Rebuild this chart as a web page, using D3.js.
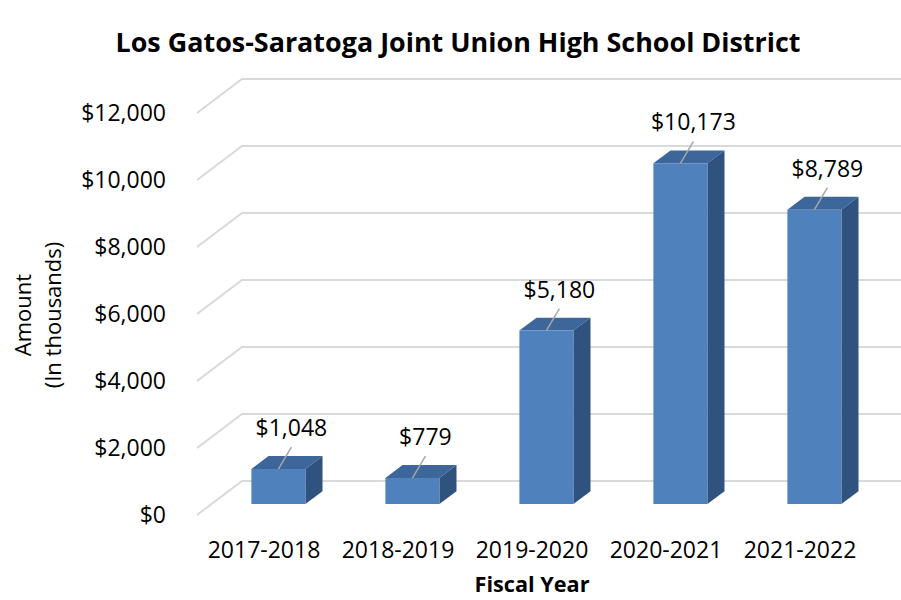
<!DOCTYPE html>
<html>
<head>
<meta charset="UTF-8">
<title>Los Gatos-Saratoga JUHSD</title>
<script src="https://d3js.org/d3.v7.min.js"></script>
<style>
  body { margin: 0; background: #fff; }
  text { font-family: "Open Sans", sans-serif; fill: #000; }
</style>
</head>
<body>
<div id="chart"></div>
<script>
// data
var years = ["2017-2018", "2018-2019", "2019-2020", "2020-2021", "2021-2022"];
var amounts = [1048, 779, 5180, 10173, 8789];
var yTicks = [0, 2000, 4000, 6000, 8000, 10000, 12000];

var W = 901, H = 600;
var depthX = 45, depthY = -34;      // full floor depth offset
var zFront = 0.32, zBack = 0.70;    // bar position inside the depth

var svg = d3.select("#chart").append("svg").attr("width", W).attr("height", H);

var x = d3.scaleBand().domain(years).range([197, 867]).paddingInner(0.597).paddingOuter(0.2985);
var y = d3.scaleLinear().domain([0, 12000]).range([515, 113]);
var fmt = function(v) { return "$" + d3.format(",")(v); };

// project a point at depth z (0 = front, 1 = back wall)
function px(xv, z) { return xv + z * depthX; }
function py(yv, z) { return yv + z * depthY; }

// gridlines (floor edge + back wall)
svg.append("g").selectAll("polyline").data(yTicks).enter().append("polyline")
    .attr("points", function(d) {
        return [[197, y(d)], [px(197, 1), py(y(d), 1)], [W, py(y(d), 1)]].join(" ");
    })
    .attr("fill", "none").attr("stroke", "#d9d9d9").attr("stroke-width", 2);

// y tick labels
svg.append("g").selectAll("text").data(yTicks).enter().append("text")
    .attr("x", 166).attr("y", function(d) { return y(d); })
    .attr("dy", "0.35em").attr("text-anchor", "end")
    .style("font-size", "23px").text(fmt);

// bars
var bars = svg.append("g").selectAll("g").data(amounts).enter().append("g");

function face(pts) { return "M" + pts.join("L") + "Z"; }

bars.append("path") // top
    .attr("fill", "#3d679a")
    .attr("d", function(d, i) {
        var x0 = x(years[i]), x1 = x0 + x.bandwidth(), t = y(d);
        return face([[px(x0, zFront), py(t, zFront)], [px(x1, zFront), py(t, zFront)],
                     [px(x1, zBack), py(t, zBack)], [px(x0, zBack), py(t, zBack)]]);
    });
bars.append("path") // side
    .attr("fill", "#30527e")
    .attr("d", function(d, i) {
        var x1 = x(years[i]) + x.bandwidth(), t = y(d), b = y(0);
        return face([[px(x1, zFront), py(t, zFront)], [px(x1, zBack), py(t, zBack)],
                     [px(x1, zBack), py(b, zBack)], [px(x1, zFront), py(b, zFront)]]);
    });
bars.append("path") // front
    .attr("fill", "#4f81bd")
    .attr("d", function(d, i) {
        var x0 = x(years[i]), x1 = x0 + x.bandwidth(), t = y(d), b = y(0);
        return face([[px(x0, zFront), py(t, zFront)], [px(x1, zFront), py(t, zFront)],
                     [px(x1, zFront), py(b, zFront)], [px(x0, zFront), py(b, zFront)]]);
    });

// data labels with leader lines
bars.append("line")
    .attr("x1", function(d, i) { return px(x(years[i]) + x.bandwidth() / 2, zFront); })
    .attr("y1", function(d) { return py(y(d), zFront); })
    .attr("x2", function(d, i) { return px(x(years[i]) + x.bandwidth() / 2, zFront) + 13; })
    .attr("y2", function(d) { return py(y(d), zFront) - 22; })
    .attr("stroke", "#a6a6a6").attr("stroke-width", 1.5);

bars.append("text")
    .attr("x", function(d, i) { return px(x(years[i]) + x.bandwidth() / 2, zFront) + 13; })
    .attr("y", function(d) { return py(y(d), zFront) - 33; })
    .attr("text-anchor", "middle").style("font-size", "23px")
    .text(fmt);

// x labels
svg.append("g").selectAll("text").data(years).enter().append("text")
    .attr("x", function(d) { return x(d) + x.bandwidth() / 2; })
    .attr("y", 558).attr("text-anchor", "middle")
    .style("font-size", "23px").text(function(d) { return d; });

// titles
svg.append("text").attr("x", 458).attr("y", 52).attr("text-anchor", "middle")
    .attr("textLength", 685).attr("lengthAdjust", "spacingAndGlyphs")
    .style("font-size", "27px").style("font-weight", "bold")
    .text("Los Gatos-Saratoga Joint Union High School District");

svg.append("text").attr("x", 532).attr("y", 592).attr("text-anchor", "middle")
    .attr("textLength", 115).attr("lengthAdjust", "spacingAndGlyphs")
    .style("font-size", "21px").style("font-weight", "bold")
    .text("Fiscal Year");

var yt = svg.append("text").attr("transform", "rotate(-90)").attr("text-anchor", "middle")
    .style("font-size", "22px");
yt.append("tspan").attr("x", -315).attr("y", 31).text("Amount");
yt.append("tspan").attr("x", -315).attr("y", 61).text("(In thousands)");
</script>
</body>
</html>
